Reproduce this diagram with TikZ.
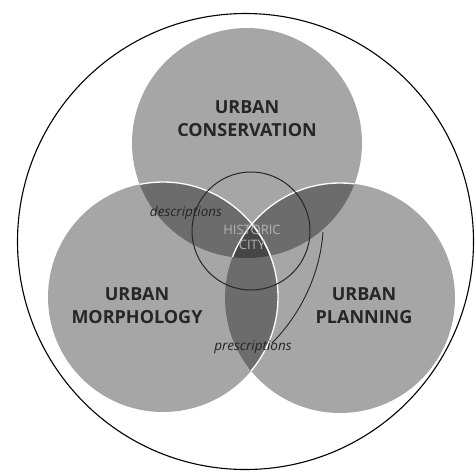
\documentclass[tikz,border=0pt]{standalone}
\usepackage{fontspec}
\setmainfont{Open Sans}
\begin{document}
\begin{tikzpicture}[x=1pt,y=-1pt]
\tikzset{
  venn/.style={fill=black, fill opacity=0.35},
  sep/.style={draw=white, line width=1.3pt},
  lab/.style={font=\bfseries\fontsize{18}{23}\selectfont, text=black!85, align=center, inner sep=0pt},
  itl/.style={font=\itshape\fontsize{13.5}{15}\selectfont, text=black!85, inner sep=0pt},
  hist/.style={font=\fontsize{13}{15}\selectfont, text=black!30, align=center, inner sep=0pt},
  ring/.style={draw=black!85, line width=1pt}
}
\useasboundingbox (0,0) rectangle (476,475);
% big circles
\fill[venn] (247,143) circle (115pt);
\fill[venn] (163,297) circle (115pt);
\fill[venn] (340,298) circle (115pt);
% white separating edges
\begin{scope}
  \clip (247,143) circle (115pt);
  \draw[sep] (163,297) circle (115pt);
  \draw[sep] (340,298) circle (115pt);
\end{scope}
\begin{scope}
  \clip (340,298) circle (115pt);
  \draw[sep] (163,297) circle (115pt);
\end{scope}
% outer circle
\draw[black, line width=1.1pt] (245.5,241.5) circle (228pt);
% historic city circle
\draw[ring] (251,231) circle (59pt);
\coordinate (a1) at (323,232);
\coordinate (a2) at (272,343);
\draw[ring, line width=0.9pt] (a1) .. controls (320,275) and (300,315) .. (a2);
% labels
\node[lab] (cons) at (247,119) {URBAN\\CONSERVATION};
\node[lab] (morph) at (137,306) {URBAN\\MORPHOLOGY};
\node[lab] (plan) at (364,306) {URBAN\\PLANNING};
\node[hist] (city) at (252,237) {HISTORIC\\CITY};
\node[itl] (desc) at (186,213) {descriptions};
\node[itl] (presc) at (253,347) {prescriptions};
\end{tikzpicture}
\end{document}
